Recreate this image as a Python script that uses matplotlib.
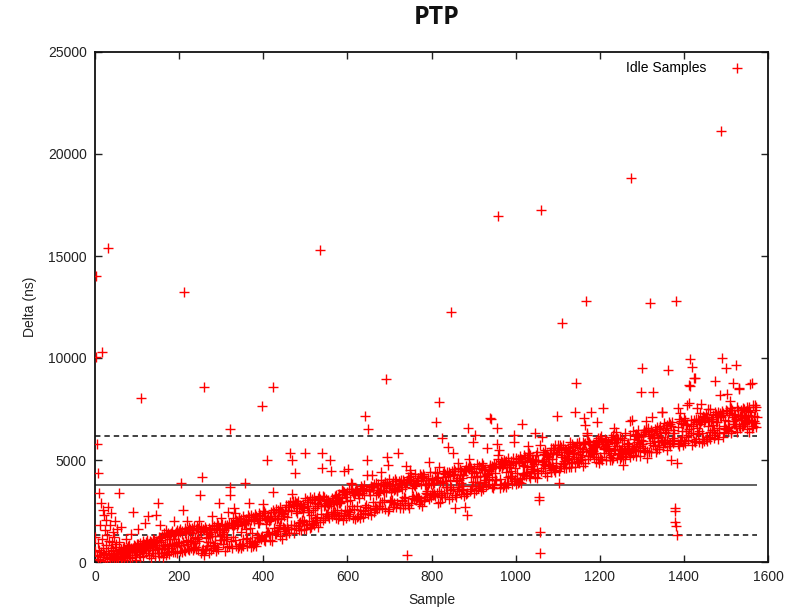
import numpy as np
import matplotlib
matplotlib.use("Agg")
import matplotlib.pyplot as plt

# Delta (ns) for each idle sample, in sample order (sample index = position)
delta_ns = [
    # 0-59
    1240, 560, 14020, 10060, 280, 5770, 920, 150, 4380, 610,
    3370, 330, 1820, 90, 2880, 470, 1150, 10310, 240, 2550,
    710, 2290, 380, 1560, 60, 2060, 820, 430, 1330, 190,
    2720, 15390, 540, 1040, 320, 1790, 130, 680, 2420, 410,
    960, 250, 1480, 570, 80, 1210, 360, 740, 2010, 200,
    520, 880, 310, 1640, 450, 170, 990, 600, 3370, 380,
    # 60-149
    480, 150, 1720, 620, 390, 240, 560, 710, 90, 450,
    730, 420, 300, 610, 1150, 520, 180, 680, 470, 790,
    560, 350, 820, 640, 210, 1380, 700, 470, 580, 260,
    2470, 690, 520, 810, 330, 640, 760, 120, 580, 900,
    710, 490, 880, 1620, 600, 380, 770, 930, 240, 650,
    8060, 820, 560, 1010, 700, 310, 880, 640, 1930, 790,
    690, 960, 420, 840, 1070, 580, 2250, 760, 350, 900,
    1020, 740, 880, 190, 970, 610, 820, 1150, 460, 760,
    930, 1080, 720, 280, 850, 1010, 2300, 640, 960, 420,
    # 150-249
    2880, 1250, 700, 310, 1810, 1190, 960, 450, 1080, 620,
    1290, 250, 840, 1410, 680, 420, 1230, 770, 1560, 330,
    1330, 860, 470, 1440, 710, 1270, 380, 820, 1380, 1140,
    560, 1400, 890, 1510, 760, 470, 1300, 2020, 1150, 840,
    1350, 510, 1490, 930, 1580, 790, 420, 1400, 990, 1530,
    930, 560, 1460, 1620, 840, 3890, 1380, 470, 1530, 2550,
    990, 610, 13250, 1440, 1650, 520, 1020, 1510, 880, 2030,
    1580, 650, 1090, 1720, 570, 960, 1490, 1640, 700, 1050,
    1430, 1680, 590, 1570, 1010, 680, 1760, 1190, 910, 640,
    1620, 720, 1110, 1780, 1240, 600, 1670, 2030, 1050, 3280,
    # 250-349
    1530, 440, 1460, 1710, 590, 4150, 1620, 660, 1550, 350,
    8600, 1710, 570, 650, 1640, 1180, 800, 1460, 1250, 990,
    1390, 1670, 450, 1570, 990, 1450, 590, 2250, 1830, 1270,
    820, 710, 1750, 780, 1660, 1260, 950, 1680, 550, 1610,
    1910, 730, 640, 1820, 1580, 2880, 1270, 1640, 1080, 1070,
    2150, 1850, 1390, 1350, 860, 1460, 1130, 1550, 1830, 550,
    1780, 1120, 1660, 720, 1830, 1210, 2470, 1740, 800, 1910,
    6520, 3280, 3680, 1920, 1040, 670, 1820, 1220, 1670, 2180,
    2630, 1790, 1090, 2390, 1850, 2070, 800, 1750, 2000, 670,
    1950, 1870, 770, 2140, 860, 2030, 670, 1490, 2100, 1810,
    # 350-449
    840, 1120, 2250, 770, 1950, 1840, 3890, 1910, 1110, 1630,
    2130, 1170, 800, 2030, 2280, 950, 2910, 2190, 1020, 1660,
    740, 2060, 2280, 1400, 1010, 2210, 800, 2110, 2030, 870,
    2350, 990, 2240, 800, 2140, 1340, 1050, 1910, 1220, 2400,
    1890, 1160, 2040, 2320, 1120, 1240, 7650, 1290, 2250, 2480,
    2850, 2500, 1100, 1010, 2410, 2170, 1340, 1860, 5000, 1450,
    2120, 2200, 1450, 1990, 1350, 2270, 1060, 2040, 2150, 2430,
    1030, 1400, 2570, 8600, 3450, 2450, 1660, 2100, 1360, 2250,
    2600, 1390, 1510, 2110, 2560, 1530, 2160, 2460, 1710, 1810,
    1290, 2690, 2450, 2120, 1140, 2510, 1730, 2330, 2410, 1660,
    # 450-549
    2260, 1620, 2540, 1330, 2810, 1420, 1700, 2230, 1600, 2770,
    2550, 1440, 2720, 2930, 5330, 1630, 2520, 1800, 5000, 3310,
    2980, 2830, 1800, 1430, 2730, 2980, 4350, 2490, 2890, 1650,
    2870, 2390, 1770, 2980, 1590, 2660, 1920, 1960, 2810, 2730,
    1580, 2060, 2660, 1950, 2470, 2840, 2020, 2720, 1620, 5360,
    3160, 1610, 1870, 2750, 3030, 1830, 2940, 2540, 2000, 2470,
    1650, 2940, 3190, 2300, 1710, 3100, 1870, 3030, 2550, 1930,
    3190, 1810, 2870, 2140, 2660, 2040, 1960, 2730, 2230, 2820,
    3150, 1700, 3050, 3220, 1950, 15290, 3100, 2330, 2750, 5330,
    4590, 3230, 2040, 2160, 2740, 3190, 2180, 2790, 3090, 2360,
    # 550-649
    2990, 2900, 2330, 3060, 2260, 2750, 2150, 2860, 2940, 5000,
    4480, 2350, 2850, 2250, 3130, 2920, 2440, 3010, 2330, 2820,
    3240, 2450, 2160, 3010, 3290, 2540, 2940, 3200, 2130, 2890,
    2250, 3330, 2930, 2900, 2390, 2980, 2320, 3530, 3130, 2080,
    3490, 2290, 3420, 4480, 3310, 2570, 2170, 3210, 2500, 3000,
    3410, 2370, 4540, 3600, 2250, 2530, 3020, 2430, 3560, 3870,
    3810, 3490, 2730, 2170, 3400, 3290, 2600, 3360, 3480, 2110,
    3580, 3550, 2210, 3480, 2760, 3330, 2270, 3160, 3400, 3570,
    2160, 2530, 3720, 2350, 3400, 3650, 2220, 3550, 2500, 3260,
    3790, 2420, 2700, 7170, 3580, 2770, 5000, 4260, 2650, 6500,
    # 650-749
    2340, 3580, 3470, 3260, 2560, 3660, 2280, 3710, 3680, 4260,
    3660, 2920, 3510, 2430, 3820, 2590, 2760, 3270, 2650, 3860,
    3510, 2590, 3840, 3380, 2740, 2660, 3450, 2930, 3540, 4420,
    4000, 3770, 2940, 2650, 3540, 3820, 3030, 3470, 3730, 2620,
    3940, 3730, 8950, 3450, 5160, 3870, 2500, 4750, 4050, 3650,
    2600, 3000, 3750, 2930, 3440, 3810, 3040, 3630, 2720, 3960,
    3530, 2910, 2830, 3600, 4080, 2710, 3970, 3500, 2890, 3550,
    5360, 3670, 3950, 3680, 2630, 3860, 2780, 4030, 3820, 2970,
    3580, 3060, 4000, 2660, 3930, 3210, 2810, 3690, 3120, 3850,
    4710, 340, 3940, 4160, 2800, 2880, 4090, 2670, 3990, 4510,
    # 750-849
    4340, 4220, 2870, 3150, 3640, 4010, 3220, 3890, 3780, 3100,
    4300, 3740, 3060, 3890, 3230, 3960, 3140, 3210, 4130, 4100,
    2830, 3130, 4310, 2980, 3820, 4220, 3050, 4150, 2740, 4040,
    4290, 2970, 3050, 4220, 3760, 3200, 4040, 3830, 3390, 3460,
    3320, 3760, 4130, 3850, 3100, 4920, 3270, 4390, 3830, 3180,
    4010, 3390, 4080, 3300, 3800, 3350, 3320, 3850, 3250, 4400,
    4040, 6850, 4350, 4110, 3390, 2910, 4170, 3500, 7860, 4670,
    2960, 3900, 3380, 3300, 3970, 6060, 3180, 4340, 3870, 3360,
    4450, 4160, 3180, 4330, 3670, 3980, 3370, 3700, 4410, 4200,
    5650, 3100, 4400, 3520, 4000, 4300, 3700, 12270, 3210, 4460,
    # 850-949
    4260, 3590, 5330, 4320, 4540, 3300, 2630, 4470, 3170, 3950,
    3500, 4120, 4600, 4840, 3660, 4020, 3560, 4560, 4270, 3330,
    4470, 3860, 4120, 3560, 4270, 3730, 3520, 4460, 3240, 4510,
    2710, 3340, 4450, 4700, 2300, 3400, 4610, 6550, 4540, 4660,
    5070, 4690, 3480, 3560, 4620, 4160, 3710, 4440, 5900, 3900,
    4350, 4630, 3370, 6230, 3910, 4410, 3510, 4190, 4790, 4230,
    3750, 3640, 4700, 3710, 4610, 4210, 3880, 4630, 3480, 4560,
    4850, 3670, 3580, 4760, 4520, 3910, 4210, 4580, 4020, 4010,
    3750, 5570, 4310, 4280, 3820, 4380, 4090, 4470, 4750, 7040,
    4680, 7010, 4560, 3690, 4730, 4180, 3620, 4640, 3770, 4810,
    # 950-1049
    4640, 4000, 4360, 4810, 4020, 6550, 5770, 5250, 16960, 5070,
    5510, 4670, 4090, 3610, 4730, 4950, 3800, 4630, 4880, 3670,
    4820, 4740, 3780, 5010, 3870, 4900, 3680, 4420, 4970, 4680,
    3870, 4150, 5090, 3800, 4790, 4680, 4230, 4750, 4140, 4470,
    4960, 4210, 3840, 4860, 5110, 3990, 6230, 5900, 4060, 4590,
    3800, 4890, 5110, 4350, 4070, 5040, 3860, 4940, 4860, 3930,
    5180, 4070, 5070, 3880, 4970, 6760, 4130, 4740, 4300, 5230,
    4730, 4270, 4880, 5160, 4230, 4350, 4670, 4400, 5090, 5320,
    5680, 5330, 4210, 4120, 5240, 5000, 4450, 4690, 5060, 4560,
    4940, 5020, 4550, 4810, 4450, 6340, 4160, 5000, 4970, 5250,
    # 1050-1149
    4120, 4490, 5380, 4370, 4980, 3200, 3040, 1450, 460, 5740,
    17250, 4470, 6140, 4920, 5370, 4610, 4970, 5270, 4790, 4760,
    4360, 5490, 5250, 5060, 4210, 5310, 4800, 5130, 5210, 4730,
    5060, 4690, 5340, 4400, 5610, 4490, 4770, 5030, 4670, 5570,
    5340, 4500, 5510, 5720, 4430, 4690, 5310, 4860, 5380, 7170,
    5720, 5570, 3860, 4480, 5470, 5720, 4630, 5230, 5630, 4700,
    11730, 5130, 4810, 5720, 4630, 5400, 4960, 4850, 5550, 5470,
    4620, 5100, 5400, 4990, 5210, 5580, 5060, 5460, 4660, 5630,
    5890, 4640, 4900, 5480, 5760, 4860, 5670, 5270, 5030, 5350,
    4680, 5660, 7330, 5170, 8760, 5820, 4900, 5750, 5270, 4960,
    # 1150-1249
    5900, 4830, 5580, 5160, 5370, 5060, 4980, 5440, 5250, 5530,
    5860, 4720, 5760, 7040, 6710, 4860, 5810, 12790, 5460, 6320,
    6250, 5930, 5060, 5180, 5440, 5890, 5200, 5490, 5790, 5380,
    7370, 5600, 5340, 5760, 5270, 5450, 5160, 5710, 5640, 5720,
    5360, 4900, 5910, 6880, 5620, 6100, 5060, 5990, 4870, 5890,
    6100, 5160, 5050, 5980, 6190, 4980, 5890, 5780, 7530, 5530,
    5360, 5600, 6050, 5700, 5010, 5950, 5560, 5800, 5710, 5470,
    5900, 5440, 5590, 5330, 5000, 5150, 5230, 6110, 5020, 6010,
    5960, 5120, 6230, 5840, 5490, 6550, 6020, 5560, 5900, 6390,
    6100, 5680, 5120, 6010, 5270, 5550, 5340, 6090, 5060, 5510,
    # 1250-1349
    5510, 5140, 6080, 5690, 5290, 5200, 4750, 6000, 5530, 5050,
    5460, 6310, 5280, 5360, 5610, 5780, 5510, 5430, 5850, 5700,
    5350, 6250, 5160, 6930, 18820, 5410, 6960, 5580, 6410, 5230,
    5530, 6030, 5700, 5490, 6220, 5210, 6270, 5630, 5870, 6170,
    6450, 5450, 5960, 5760, 6120, 5690, 5210, 6180, 8330, 6000,
    9490, 5770, 5920, 6280, 5590, 5380, 6470, 5470, 6360, 6490,
    6910, 6480, 5080, 5460, 6360, 6570, 5390, 6270, 6160, 5820,
    12680, 6410, 5370, 6460, 7120, 6060, 5720, 8350, 6210, 6120,
    5920, 5680, 6510, 5370, 6400, 6620, 5560, 6300, 5890, 6090,
    6500, 5750, 5540, 6690, 6300, 5910, 6110, 7370, 5980, 7330,
    # 1350-1449
    5630, 6590, 6800, 5900, 5820, 6390, 5990, 6460, 6580, 5500,
    6700, 5980, 6300, 9410, 6850, 5760, 5670, 6760, 5830, 6690,
    5000, 5930, 6870, 6470, 5830, 6080, 6340, 5980, 2630, 2520,
    1950, 12790, 1780, 1330, 4840, 6630, 5770, 7530, 7010, 5700,
    5990, 7320, 6900, 5950, 6810, 6410, 6120, 6830, 5720, 6760,
    7050, 5910, 5820, 6960, 6720, 6150, 6410, 6780, 7680, 6230,
    5980, 7780, 8680, 6510, 9950, 8630, 6320, 6680, 6960, 5740,
    9580, 6330, 6780, 5930, 6950, 9040, 5860, 9000, 6010, 7030,
    6860, 7530, 6580, 7030, 6260, 5890, 6930, 6440, 6780, 7290,
    7740, 6900, 6330, 5850, 6960, 7180, 6040, 6860, 7110, 5910,
    # 1450-1549
    7050, 6970, 6020, 7240, 6110, 7130, 5920, 6660, 7480, 6910,
    6110, 6390, 7480, 6040, 7030, 6920, 6470, 6990, 6380, 6710,
    7210, 6450, 6080, 8890, 7360, 6230, 6870, 7270, 6300, 6840,
    6040, 7130, 7350, 6590, 6310, 7280, 8190, 7180, 7100, 21130,
    7420, 9980, 7310, 6120, 7210, 6660, 6370, 6980, 6540, 7470,
    9490, 6500, 8240, 7380, 6460, 6580, 6890, 6630, 7310, 7540,
    7880, 7530, 6430, 6340, 7440, 7200, 8760, 6890, 7260, 6780,
    7130, 7210, 6760, 7000, 6660, 9640, 6370, 7620, 7160, 7440,
    8510, 6690, 8470, 6570, 7150, 7430, 6950, 7080, 6650, 7230,
    7560, 6660, 6780, 7070, 7520, 6800, 7120, 7420, 6980, 6930,
    # 1550-1573
    6530, 7620, 7380, 7210, 6380, 7610, 6970, 8730, 7340, 6900,
    7170, 6850, 8770, 6560, 7720, 6650, 6930, 7140, 6830, 7680,
    7430, 6630, 7600, 7120,
]

# Reference lines: mean and mean +/- one standard deviation (ns)
ref_mean = 3780
ref_band = [1330, 6200]

series_label = "Idle Samples"
title = "PTP"
x_label = "Sample"
y_label = "Delta (ns)"
x_ticks = [0, 200, 400, 600, 800, 1000, 1200, 1400, 1600]
y_ticks = [0, 5000, 10000, 15000, 20000, 25000]

samples = np.arange(len(delta_ns))
delta = np.array(delta_ns)

plt.rcParams['font.family'] = ['Liberation Sans', 'DejaVu Sans']

fig = plt.figure(figsize=(8, 6.14), dpi=100)
ax = fig.add_axes([95 / 800, 1 - 562 / 614, (768 - 95) / 800, (562 - 52) / 614])

ax.plot(samples, delta, linestyle='none', marker='+', markersize=7,
        markeredgewidth=1.0, color='#ff0000', label=series_label, zorder=3)

x_end = samples[-1]
ax.hlines(ref_mean, 0, x_end, colors='#555555', linewidth=1.3, zorder=2)
ax.hlines(ref_band, 0, x_end, colors='#333333', linewidth=1.3,
          linestyles=(0, (3, 2.2)), zorder=2)

ax.set_xlim(0, 1600)
ax.set_ylim(0, 25000)
ax.set_xticks(x_ticks)
ax.set_yticks(y_ticks)
ax.tick_params(direction='in', length=5, width=1, top=True, right=True,
               labelsize=10, colors='#222222', pad=6)
for s in ax.spines.values():
    s.set_linewidth(1.3)
    s.set_color('#111111')

ax.set_xlabel(x_label, fontsize=10, color='#222222', labelpad=6)
ax.set_ylabel(y_label, fontsize=10, color='#222222', labelpad=8)

leg = ax.legend(loc='upper right', markerfirst=False, frameon=False,
                fontsize=10, handlelength=1.2, handletextpad=1.6,
                borderaxespad=0.5, bbox_to_anchor=(0.985, 1.006))

fig.text(437 / 800, 1 - 18 / 614, title, ha='center', va='center',
         fontsize=18, fontweight='bold', color='#111111',
         family=['Open Sans', 'DejaVu Sans'])

fig.savefig('out.png', dpi=100)
